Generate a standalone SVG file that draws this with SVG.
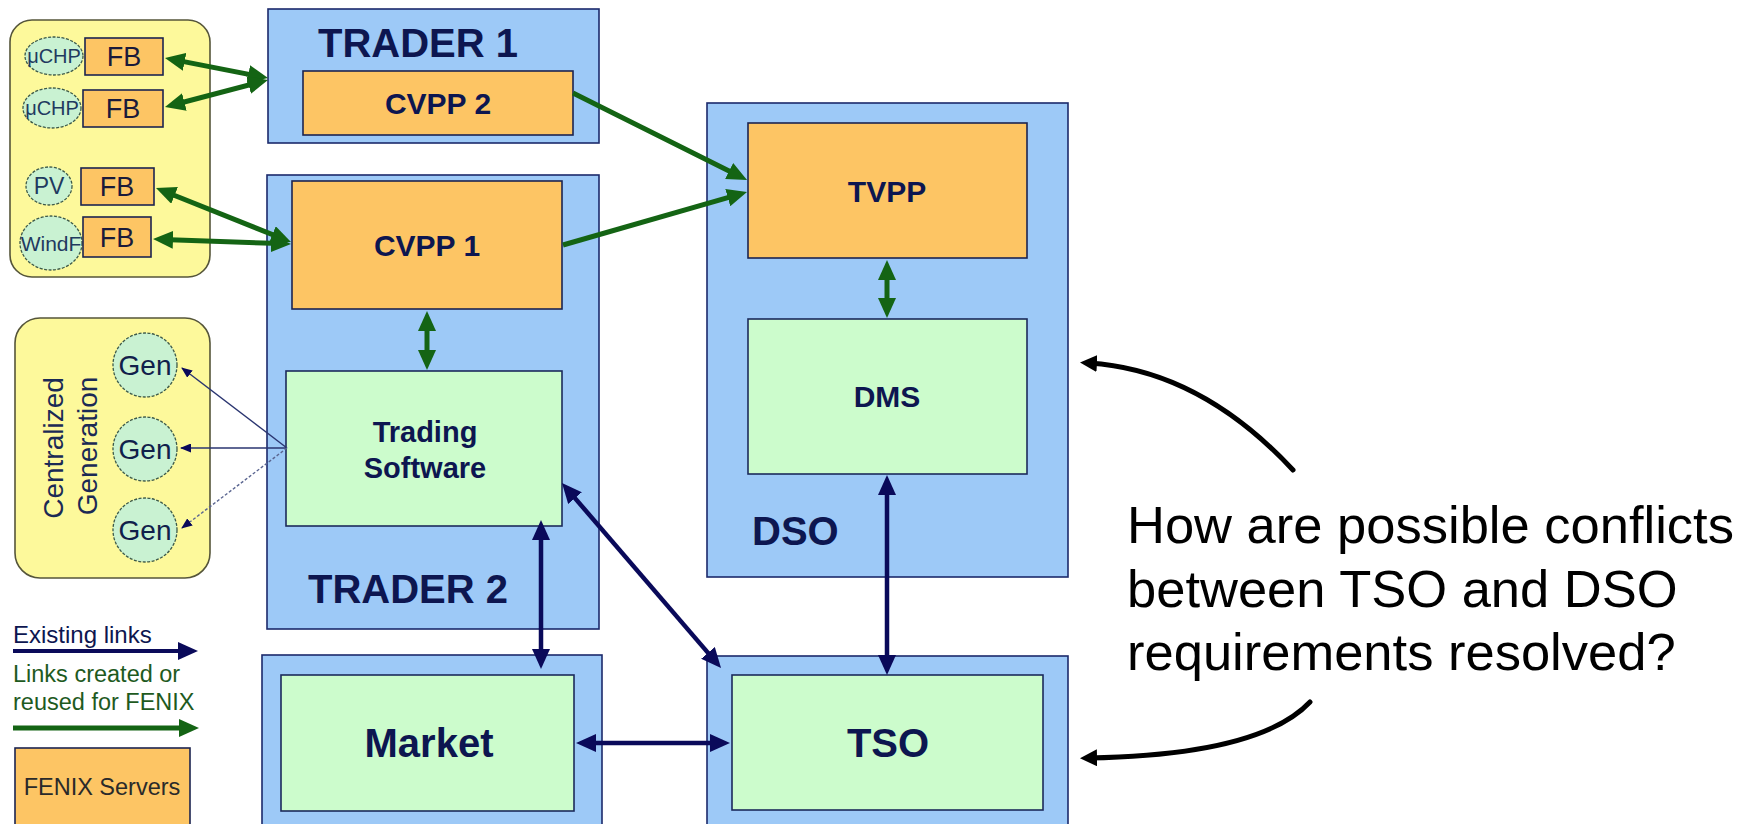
<svg xmlns="http://www.w3.org/2000/svg" width="1757" height="824" viewBox="0 0 1757 824">
  <style>
    .bg { fill: #ffffff; }
    .zone { fill: #9dc9f7; stroke: #1c2a6b; stroke-width: 1.6; }
    .fenix { fill: #fdc564; stroke: #1c2450; stroke-width: 1.6; }
    .sys { fill: #ccfccc; stroke: #1c2a5b; stroke-width: 1.6; }
    .group { fill: #fdf99b; stroke: #55553a; stroke-width: 1.6; }
    .unit { fill: #c9f2d2; stroke: #3d5a4a; stroke-width: 1.3; stroke-dasharray: 3 1.5; }
    .t { font-family: "Liberation Sans", Arial, sans-serif; fill: #0d1650; }
    .big { font-size: 40px; font-weight: bold; }
    .mid { font-size: 30px; font-weight: bold; }
    .fb { font-size: 27px; fill: #1a1a3a; }
    .small { font-size: 20px; fill: #1f3a5f; }
    .gen { font-size: 28px; fill: #10204a; }
    .vert { font-size: 28px; fill: #1b2a55; }
    .leg { font-size: 23.5px; }
    .q { font-family: "Liberation Sans", Arial, sans-serif; font-size: 52.5px; fill: #000000; }
    .green { stroke: #146414; stroke-width: 5; fill: none; }
    .navy { stroke: #0a0a5a; stroke-width: 4.5; fill: none; }
    .thin { stroke: #2a3570; stroke-width: 1.4; fill: none; }
    .callout { stroke: #000000; stroke-width: 5; fill: none; stroke-linecap: round; }
  </style>
  <defs>
    <marker id="headGreen" markerUnits="userSpaceOnUse" markerWidth="20" markerHeight="18" refX="10" refY="9" orient="auto-start-reverse">
      <path d="M0,0 L20,9 L0,18 z" fill="#146414"/>
    </marker>
    <marker id="headNavy" markerUnits="userSpaceOnUse" markerWidth="20" markerHeight="18" refX="10" refY="9" orient="auto-start-reverse">
      <path d="M0,0 L20,9 L0,18 z" fill="#0a0a5a"/>
    </marker>
    <marker id="headThin" markerUnits="userSpaceOnUse" markerWidth="11" markerHeight="9" refX="10" refY="4.5" orient="auto">
      <path d="M0,0 L11,4.5 L0,9 z" fill="#0a0a5a"/>
    </marker>
    <marker id="headBlack" markerUnits="userSpaceOnUse" markerWidth="17" markerHeight="17" refX="8" refY="8.5" orient="auto">
      <path d="M0,0 L17,8.5 L0,17 z" fill="#000000"/>
    </marker>
  </defs>

  <rect class="bg" x="0" y="0" width="1757" height="824"/>

  <!-- distributed units -->
  <g id="distributed-units">
    <rect class="group" x="10" y="20" width="200" height="257" rx="22"/>
    <ellipse class="unit" cx="54" cy="56" rx="29" ry="19"/>
    <text class="t small" x="54" y="63" text-anchor="middle">μCHP</text>
    <rect class="fenix" x="85" y="38" width="78" height="37"/>
    <text class="t fb" x="124" y="66" text-anchor="middle">FB</text>
    <ellipse class="unit" cx="52" cy="108" rx="29" ry="20"/>
    <text class="t small" x="52" y="115" text-anchor="middle">μCHP</text>
    <rect class="fenix" x="83" y="90" width="80" height="37"/>
    <text class="t fb" x="123" y="118" text-anchor="middle">FB</text>
    <ellipse class="unit" cx="49" cy="186" rx="23" ry="19"/>
    <text class="t small" x="49" y="194" text-anchor="middle" style="font-size:23px">PV</text>
    <rect class="fenix" x="81" y="168" width="73" height="37"/>
    <text class="t fb" x="117" y="196" text-anchor="middle">FB</text>
    <ellipse class="unit" cx="51" cy="243" rx="31" ry="27"/>
    <text class="t small" x="51" y="251" text-anchor="middle" style="font-size:21px">WindF</text>
    <rect class="fenix" x="83" y="217" width="68" height="40"/>
    <text class="t fb" x="117" y="247" text-anchor="middle">FB</text>
  </g>

  <!-- centralized generation -->
  <g id="centralized-generation">
    <rect class="group" x="15" y="318" width="195" height="260" rx="25"/>
    <text class="t vert" transform="translate(63,448) rotate(-90)" text-anchor="middle">Centralized</text>
    <text class="t vert" transform="translate(97,446) rotate(-90)" text-anchor="middle">Generation</text>
    <circle class="unit" cx="145" cy="365" r="32"/>
    <text class="t gen" x="145" y="375" text-anchor="middle">Gen</text>
    <circle class="unit" cx="145" cy="449" r="32"/>
    <text class="t gen" x="145" y="459" text-anchor="middle">Gen</text>
    <circle class="unit" cx="145" cy="530" r="32"/>
    <text class="t gen" x="145" y="540" text-anchor="middle">Gen</text>
  </g>

  <!-- trader 1 -->
  <g id="trader1">
    <rect class="zone" x="268" y="9" width="331" height="134"/>
    <text class="t big" x="418" y="57" text-anchor="middle">TRADER 1</text>
  </g>
  <g id="cvpp2">
    <rect class="fenix" x="303" y="71" width="270" height="64"/>
    <text class="t mid" x="438" y="114" text-anchor="middle">CVPP 2</text>
  </g>

  <!-- trader 2 -->
  <g id="trader2">
    <rect class="zone" x="267" y="175" width="332" height="454"/>
    <text class="t big" x="408" y="603" text-anchor="middle">TRADER 2</text>
  </g>
  <g id="cvpp1">
    <rect class="fenix" x="292" y="181" width="270" height="128"/>
    <text class="t mid" x="427" y="256" text-anchor="middle">CVPP 1</text>
  </g>
  <g id="trading-software">
    <rect class="sys" x="286" y="371" width="276" height="155"/>
    <text class="t mid" x="425" y="442" text-anchor="middle" style="font-size:29px">Trading</text>
    <text class="t mid" x="425" y="478" text-anchor="middle" style="font-size:29px">Software</text>
  </g>

  <!-- DSO -->
  <g id="dso">
    <rect class="zone" x="707" y="103" width="361" height="474"/>
    <text class="t big" x="752" y="545">DSO</text>
  </g>
  <g id="tvpp">
    <rect class="fenix" x="748" y="123" width="279" height="135"/>
    <text class="t mid" x="887" y="202" text-anchor="middle">TVPP</text>
  </g>
  <g id="dms">
    <rect class="sys" x="748" y="319" width="279" height="155"/>
    <text class="t mid" x="887" y="407" text-anchor="middle">DMS</text>
  </g>

  <!-- market -->
  <g id="market">
    <rect class="zone" x="262" y="655" width="340" height="180"/>
    <rect class="sys" x="281" y="675" width="293" height="136"/>
    <text class="t big" x="429" y="757" text-anchor="middle">Market</text>
  </g>

  <!-- TSO -->
  <g id="tso">
    <rect class="zone" x="707" y="656" width="361" height="180"/>
    <rect class="sys" x="732" y="675" width="311" height="135"/>
    <text class="t big" x="888" y="757" text-anchor="middle">TSO</text>
  </g>

  <!-- legend -->
  <g id="legend">
    <text class="t leg" x="13" y="643" style="font-size:24px">Existing links</text>
    <line class="navy" x1="13" y1="651" x2="188" y2="651" style="stroke-width:3.8" marker-end="url(#headNavy)"/>
    <text class="t leg" x="13" y="682" style="fill:#1e5a1e">Links created or</text>
    <text class="t leg" x="13" y="710" style="fill:#1e5a1e">reused for FENIX</text>
    <line class="green" x1="13" y1="728" x2="189" y2="728" marker-end="url(#headGreen)"/>
    <rect class="fenix" x="15" y="748" width="175" height="90"/>
    <text class="t leg" x="102" y="795" text-anchor="middle" style="fill:#2a2a2a">FENIX Servers</text>
  </g>

  <!-- question -->
  <g id="question">
    <text class="q" x="1127" y="543">How are possible conflicts</text>
    <text class="q" x="1127" y="607">between TSO and DSO</text>
    <text class="q" x="1127" y="670">requirements resolved?</text>
  </g>

  <!-- connectors -->
  <g id="connectors">
    <!-- FENIX links -->
    <line class="green" x1="174.8" y1="59.9" x2="258.2" y2="76.1" marker-start="url(#headGreen)" marker-end="url(#headGreen)"/>
    <line class="green" x1="174.7" y1="104.5" x2="258.3" y2="82.5" marker-start="url(#headGreen)" marker-end="url(#headGreen)"/>
    <line class="green" x1="165.3" y1="191.7" x2="281.7" y2="238.3" marker-start="url(#headGreen)" marker-end="url(#headGreen)"/>
    <line class="green" x1="163" y1="239.4" x2="281" y2="243.6" marker-start="url(#headGreen)" marker-end="url(#headGreen)"/>
    <line class="green" x1="573" y1="93" x2="738.1" y2="175.5" marker-end="url(#headGreen)"/>
    <line class="green" x1="563" y1="245" x2="737.4" y2="194.8" marker-end="url(#headGreen)"/>
    <line class="green" x1="427" y1="321" x2="427" y2="360" marker-start="url(#headGreen)" marker-end="url(#headGreen)"/>
    <line class="green" x1="887" y1="270" x2="887" y2="308" marker-start="url(#headGreen)" marker-end="url(#headGreen)"/>

    <!-- existing links -->
    <line class="navy" x1="541" y1="530" x2="541" y2="659" marker-start="url(#headNavy)" marker-end="url(#headNavy)"/>
    <line class="navy" x1="568.5" y1="490.6" x2="714.5" y2="660.4" marker-start="url(#headNavy)" marker-end="url(#headNavy)"/>
    <line class="navy" x1="586" y1="743" x2="720" y2="743" marker-start="url(#headNavy)" marker-end="url(#headNavy)"/>
    <line class="navy" x1="887" y1="485" x2="887" y2="665" marker-start="url(#headNavy)" marker-end="url(#headNavy)"/>

    <!-- generation control -->
    <line class="thin" x1="287" y1="448" x2="182" y2="368" marker-end="url(#headThin)"/>
    <line class="thin" x1="287" y1="448" x2="181" y2="448" marker-end="url(#headThin)"/>
    <line class="thin" x1="287" y1="448" x2="182" y2="528" style="stroke-dasharray:3 2;stroke:#5a6590" marker-end="url(#headThin)"/>

    <!-- question pointers -->
    <path class="callout" d="M1293,470 Q1200,370 1089,363" marker-end="url(#headBlack)"/>
    <path class="callout" d="M1310,702 Q1260,755 1089,758" marker-end="url(#headBlack)"/>
  </g>
</svg>
